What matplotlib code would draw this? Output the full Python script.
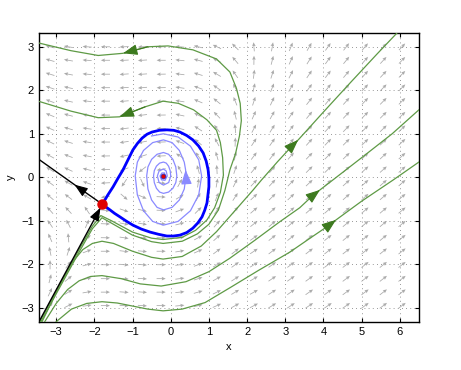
import numpy as np
import matplotlib.pyplot as plt

plt.rcParams['font.family'] = ['Liberation Sans', 'DejaVu Sans']

# centres of the gray direction arrows
field_x = [-3.16, -2.68, -2.19, -1.71, -1.22, -0.74, -0.25, 0.24, 0.72, 1.21,
           1.69, 2.18, 2.66, 3.15, 3.63, 4.12, 4.60, 5.09, 5.57, 6.06]
field_y = [3.0, 2.69, 2.37, 2.06, 1.75, 1.43, 1.12, 0.81, 0.49, 0.18,
           -0.13, -0.45, -0.76, -1.07, -1.39, -1.70, -2.01, -2.33, -2.64, -2.95]
# arrow direction on screen, degrees (rows follow field_y, columns follow field_x)
field_angle = [
    [165, 170, 176, 180, 183, 183, 180, 175, 166, 155, 135, 95, 80, 68, 60, 55, 52, 50, 48, 47],
    [164, 170, 176, 180, 183, 184, 180, 174, 165, 152, 130, 89, 76, 66, 58, 54, 51, 49, 47.5, 46.5],
    [163, 169, 175, 180, 184, 184, 181, 173, 163, 149, 125, 83, 72, 63, 56, 53, 50, 48.5, 47, 46],
    [161, 168, 175, 180, 184, 185, 181, 172, 160, 145, 119, 77, 68, 60, 54, 51.5, 49, 47.5, 46, 45.5],
    [160, 167, 174, 180, 185, 186, 181, 171, 157, 141, 112, 72, 65, 58, 52, 50.5, 48, 47, 45.5, 45],
    [158, 165, 173, 180, 186, 187, 181, 168, 153, 134, 104, 66, 61, 55, 51, 48, 47, 46, 45, 44.5],
    [156, 164, 172, 180, 187, 189, 181, 165, 147, 127, 96, 62, 58, 53, 49, 47, 46, 45, 44, 44],
    [154, 162, 171, 180, 189, 192, 182, 160, 139, 118, 88, 57, 55, 51, 48, 46, 45, 44.5, 43.5, 43.5],
    [151, 159, 169, 181, 193, 198, 183, 148, 125, 106, 79, 53, 52, 49, 46, 45, 44, 43.5, 43, 43],
    [148, 155, 166, 181, 202, 218, 190, 118, 106, 93, 71, 50, 49, 47, 45, 44, 43, 43, 42, 42],
    [144, 150, 161, 183, 236, 294, 352, 61, 82, 80, 64, 47, 47, 45.5, 43.5, 43, 42, 42, 41.5, 41.5],
    [139, 143, 150, 189, 319, 336, 357, 31, 60, 68, 57, 43.5, 44.7, 43.8, 42.4, 42, 41.5, 41.5, 41, 41],
    [132, 133, 124, 354, 341, 346, 358, 20, 45, 58, 52, 41, 42.6, 42.3, 41.2, 41, 40.5, 40.5, 40.5, 40.5],
    [124, 117, 67, 358, 348, 350, 359, 14.5, 35, 49, 47, 38.5, 40.7, 40.8, 40, 40, 39.5, 40, 40, 40],
    [114, 95, 33, 359, 351, 352, 359, 11, 28.5, 42, 43, 36, 38.8, 39.4, 38.9, 39, 39, 39.5, 39.5, 39.5],
    [102, 72, 21, 0, 353, 354, 0, 9.4, 24, 37, 39, 34, 37.2, 38, 37.9, 38, 38, 39, 39, 39],
    [90, 53, 15, 0, 354, 355, 0, 8, 20.5, 32.7, 36, 32.6, 35.7, 36.9, 36.9, 37.5, 37.5, 38.5, 38.5, 38.5],
    [76, 40, 12, 0, 355, 356, 0, 7, 18, 29, 33, 31, 34.2, 35.6, 36, 36.5, 37, 38, 38, 38],
    [65, 32, 10, 0, 356, 356, 0, 6, 16, 26, 31, 29.4, 32.9, 34.6, 35, 36, 36.5, 37.5, 37.5, 37.5],
    [55, 27, 8, 0, 356, 356, 0, 5.5, 14, 24, 29, 28, 31.7, 33.5, 34.2, 35, 36, 37, 37, 37],
]

# equilibria
saddle = (-1.79, -0.62)
focus = (-0.19, 0.03)

# homoclinic loop (thick blue)
loop_x = [-1.79, -1.65, -1.51, -1.38, -1.25, -1.12, -0.99, -0.87, -0.75, -0.62, -0.49, -0.30,
          -0.10, 0.08, 0.24, 0.42, 0.58, 0.73, 0.85, 0.93, 0.98, 1.00, 1.00, 0.95, 0.89,
          0.82, 0.71, 0.58, 0.42, 0.24, 0.07, -0.10, -0.32, -0.54, -0.77, -0.99, -1.16,
          -1.33, -1.47, -1.59, -1.70, -1.79]
loop_y = [-0.62, -0.41, -0.22, -0.02, 0.17, 0.40, 0.63, 0.78, 0.90, 0.99, 1.04, 1.08,
          1.09, 1.08, 1.04, 0.96, 0.86, 0.72, 0.56, 0.37, 0.17, -0.02, -0.22, -0.59, -0.76,
          -0.91, -1.05, -1.17, -1.27, -1.33, -1.35, -1.35, -1.31, -1.26, -1.19, -1.10, -1.01,
          -0.91, -0.83, -0.75, -0.68, -0.62]

# spiral leaving the focus (light blue)
spiral_x = [-0.15, -0.16, -0.23, -0.28, -0.24, -0.15, -0.09, -0.118, -0.19, -0.305, -0.35,
            -0.305, -0.19, -0.053, 0.0,
            -0.014, -0.056, -0.117, -0.19, -0.29, -0.374, -0.43, -0.45, -0.43, -0.374, -0.29,
            -0.19, -0.056, 0.057, 0.133, 0.16,
            0.133, 0.057, -0.056, -0.19, -0.358, -0.501, -0.597, -0.63, -0.597, -0.501,
            -0.358, -0.19, 0.036, 0.227, 0.355, 0.40,
            0.39, 0.355, 0.227, 0.036, -0.19, -0.473, -0.713, -0.874, -0.93, -0.874, -0.713,
            -0.473, -0.19, 0.193, 0.517, 0.734, 0.81,
            0.734, 0.517, 0.193, -0.19, -0.50]
spiral_y = [0.03, 0.10, 0.10, 0.03, -0.06, -0.07, 0.03, 0.145, 0.19, 0.145, 0.03,
            -0.12, -0.18, -0.12, 0.03,
            0.152, 0.256, 0.326, 0.35, 0.326, 0.256, 0.152, 0.03, -0.123, -0.253, -0.34,
            -0.37, -0.34, -0.253, -0.123, 0.03,
            0.237, 0.412, 0.529, 0.57, 0.529, 0.412, 0.237, 0.03, -0.269, -0.521,
            -0.691, -0.75, -0.691, -0.521, -0.269, 0.03,
            0.17, 0.348, 0.617, 0.797, 0.86, 0.797, 0.617, 0.348, 0.03, -0.403, -0.769,
            -1.014, -1.10, -1.014, -0.769, -0.403, 0.03,
            0.401, 0.716, 0.926, 1.0, 0.95]

# green trajectories
traj_a_x = [-3.40, -2.90, -2.40, -2.05, -1.80, -1.50, -1.00, -0.50, -0.20, 0.30, 0.70, 1.00,
            1.25, 1.42, 1.55, 1.70, 1.80, 1.85, 1.82, 1.72, 1.55, 1.20, 0.58, -0.07, -0.60,
            -1.25, -1.90, -2.61, -3.47]
traj_a_y = [-3.32, -2.52, -1.72, -1.18, -0.93, -1.08, -1.33, -1.48, -1.52, -1.47, -1.30, -1.08,
            -0.75, -0.30, 0.17, 0.55, 0.95, 1.30, 1.70, 2.05, 2.42, 2.72, 2.93, 3.02, 3.00,
            2.85, 2.80, 2.91, 3.09]
traj_b_x = [-3.37, -2.90, -2.40, -2.05, -1.83, -1.55, -1.00, -0.50, -0.20, 0.30, 0.65, 0.95,
            1.15, 1.30, 1.38, 1.36, 1.30, 1.20, 0.95, 0.60, 0.20, -0.20, -0.67, -1.34, -1.90,
            -2.61, -3.47]
traj_b_y = [-3.32, -2.47, -1.66, -1.12, -0.88, -1.00, -1.26, -1.40, -1.43, -1.38, -1.22, -0.98,
            -0.70, -0.35, 0.05, 0.45, 0.80, 1.08, 1.32, 1.55, 1.70, 1.75, 1.62, 1.39, 1.37,
            1.52, 1.75]
traj_c_x = [-3.43, -2.90, -2.60, -2.30, -2.05, -1.80, -1.50, -1.00, -0.50, -0.20, 0.30, 0.80,
            1.20, 1.55, 1.90, 2.16, 2.38, 2.80, 3.20, 3.34, 4.00, 4.70, 5.40, 5.92]
traj_c_y = [-3.32, -2.46, -1.98, -1.66, -1.52, -1.47, -1.52, -1.70, -1.84, -1.88, -1.82, -1.58,
            -1.25, -0.90, -0.55, -0.29, -0.06, 0.36, 0.74, 0.86, 1.50, 2.17, 2.83, 3.31]
traj_d_x = [-3.30, -3.00, -2.70, -2.40, -2.10, -1.80, -1.30, -0.80, -0.25, 0.40, 1.00, 1.55,
            2.20, 2.86, 3.38, 3.72, 3.91, 4.25, 5.00, 5.80, 6.50]
traj_d_y = [-3.32, -2.90, -2.58, -2.38, -2.28, -2.26, -2.33, -2.45, -2.50, -2.40, -2.17, -1.86,
            -1.45, -1.02, -0.70, -0.42, -0.29, -0.06, 0.45, 1.00, 1.55]
traj_e_x = [-3.00, -2.60, -2.20, -1.80, -1.40, -1.00, -0.60, -0.20, 0.30, 0.90, 1.55, 2.30,
            3.12, 3.70, 4.12, 4.33, 5.00, 5.83, 6.50]
traj_e_y = [-3.32, -3.03, -2.90, -2.86, -2.89, -2.96, -3.03, -3.07, -3.03, -2.88, -2.54, -2.14,
            -1.72, -1.37, -1.12, -0.98, -0.55, -0.06, 0.35]

# saddle separatrices (black)
stable_x = [-3.45, -1.98, -1.84, -1.79]
stable_y = [-3.32, -0.93, -0.70, -0.62]
unstable_x = [-1.79, -2.36, -2.52, -3.45]
unstable_y = [-0.62, -0.27, -0.17, 0.41]


def head(ax, xs, ys, i, color, size=9):
    # arrowhead on the segment ending at point i
    ax.annotate('', xy=(xs[i], ys[i]), xytext=(xs[i - 1], ys[i - 1]),
                arrowprops=dict(arrowstyle='-|>,head_length=0.8,head_width=0.3',
                                color=color, lw=0.8, shrinkA=0, shrinkB=0,
                                mutation_scale=size),
                zorder=5)


fig = plt.figure(figsize=(4.61, 3.70), dpi=100)
ax = fig.add_axes([0.0846, 0.1305, 0.824, 0.7795])

gx, gy = np.meshgrid(field_x, field_y)
ang = np.radians(np.array(field_angle, dtype=float))
ax.quiver(gx, gy, np.cos(ang), np.sin(ang), angles='uv', pivot='middle',
          color='#ababab', units='dots', width=0.8, headwidth=4.5, headlength=5,
          headaxislength=4.5, scale=11, scale_units='inches', zorder=1)

green = '#5e9a45'
dark_green = '#3d7a1f'
for xs, ys, k in [(traj_a_x, traj_a_y, 25), (traj_b_x, traj_b_y, 23),
                  (traj_c_x, traj_c_y, 19), (traj_d_x, traj_d_y, 16),
                  (traj_e_x, traj_e_y, 15)]:
    ax.plot(xs, ys, color=green, lw=0.9, zorder=3)
    head(ax, xs, ys, k, dark_green, size=11)

ax.plot(spiral_x, spiral_y, color='#8a8aff', lw=0.9, zorder=3)
head(ax, spiral_x, spiral_y, 47, '#8a8aff', size=11)

ax.plot(loop_x, loop_y, color='#0000ff', lw=2.0, zorder=4)

ax.plot(stable_x, stable_y, color='black', lw=1.0, zorder=4)
ax.plot(unstable_x, unstable_y, color='black', lw=1.0, zorder=4)
head(ax, stable_x, stable_y, 2, 'black', size=10)
head(ax, unstable_x, unstable_y, 2, 'black', size=10)

ax.plot(*saddle, 'o', color='#e00000', ms=6.5, mec='#e00000', zorder=6)
ax.plot(*focus, 'o', color='#e00000', ms=3.5, mec='#3030c0', mew=0.6, zorder=6)

ax.set_xlim(-3.45, 6.5)
ax.set_ylim(-3.32, 3.31)
ax.set_xticks(range(-3, 7))
ax.set_yticks(range(-3, 4))
ax.grid(True, color='#777777', lw=0.6, linestyle=(0, (1, 4)))
ax.set_axisbelow(True)
ax.tick_params(direction='in', top=True, right=True, length=3, labelsize=8, width=0.8)
for s in ax.spines.values():
    s.set_linewidth(1.0)
ax.set_xlabel('x', fontsize=8, labelpad=4)
ax.set_ylabel('y', fontsize=8, labelpad=4)

fig.savefig('out.png', dpi=100)
